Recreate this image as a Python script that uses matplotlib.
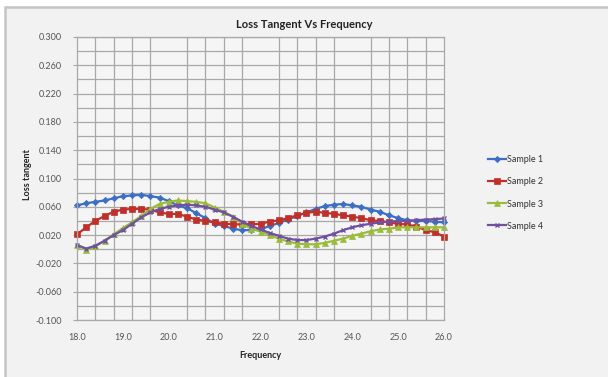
import numpy as np
import matplotlib
matplotlib.use("Agg")
import matplotlib.pyplot as plt
from matplotlib.patches import Rectangle

plt.rcParams['font.family'] = ['Lato', 'DejaVu Sans']

# frequency points, 18.0 to 26.0 in steps of 0.2
freq = [18.0, 18.2, 18.4, 18.6, 18.8, 19.0, 19.2, 19.4, 19.6, 19.8,
        20.0, 20.2, 20.4, 20.6, 20.8, 21.0, 21.2, 21.4, 21.6, 21.8,
        22.0, 22.2, 22.4, 22.6, 22.8, 23.0, 23.2, 23.4, 23.6, 23.8,
        24.0, 24.2, 24.4, 24.6, 24.8, 25.0, 25.2, 25.4, 25.6, 25.8, 26.0]

sample1 = [0.062, 0.065, 0.067, 0.069, 0.072, 0.075, 0.076, 0.077, 0.075, 0.073,
           0.068, 0.062, 0.058, 0.051, 0.044, 0.036, 0.033, 0.029, 0.027, 0.027,
           0.028, 0.033, 0.037, 0.042, 0.047, 0.052, 0.057, 0.061, 0.063, 0.064,
           0.062, 0.060, 0.056, 0.053, 0.048, 0.044, 0.041, 0.040, 0.040, 0.039, 0.038]

sample2 = [0.021, 0.031, 0.040, 0.047, 0.053, 0.056, 0.057, 0.057, 0.056, 0.052,
           0.050, 0.050, 0.046, 0.042, 0.040, 0.038, 0.036, 0.0355, 0.035, 0.035,
           0.036, 0.039, 0.041, 0.044, 0.048, 0.0515, 0.053, 0.0515, 0.050, 0.048,
           0.046, 0.044, 0.041, 0.040, 0.038, 0.036, 0.035, 0.032, 0.027, 0.024, 0.018]

sample3 = [0.006, -0.001, 0.004, 0.012, 0.021, 0.030, 0.038, 0.047, 0.057, 0.064,
           0.067, 0.069, 0.068, 0.067, 0.065, 0.059, 0.053, 0.046, 0.036, 0.029,
           0.025, 0.020, 0.015, 0.011, 0.008, 0.007, 0.007, 0.009, 0.012, 0.015,
           0.019, 0.022, 0.0255, 0.028, 0.029, 0.031, 0.031, 0.031, 0.031, 0.031, 0.031]

sample4 = [0.006, 0.001, 0.005, 0.012, 0.020, 0.027, 0.036, 0.045, 0.052, 0.057,
           0.060, 0.062, 0.063, 0.062, 0.060, 0.056, 0.052, 0.046, 0.039, 0.033,
           0.028, 0.023, 0.019, 0.015, 0.013, 0.013, 0.015, 0.018, 0.022, 0.027,
           0.031, 0.034, 0.036, 0.038, 0.039, 0.040, 0.040, 0.041, 0.042, 0.0425, 0.0435]

labels = ['Sample 1', 'Sample 2', 'Sample 3', 'Sample 4']
colors = ['#3A6FC4', '#C0302B', '#9BBB3A', '#7050A0']
markers = ['D', 's', '^', 'x']
sizes = [3.2, 4.2, 4.0, 3.5]

fig = plt.figure(figsize=(6.08, 3.77), dpi=100, facecolor='white')

# chart area frame (grey panel)
fig.patches.append(Rectangle((5 / 608, -0.05), 1.1, 1 - 7 / 377 + 0.05,
                             transform=fig.transFigure, facecolor='#f2f2f2',
                             edgecolor='#c4c4c4', linewidth=1.8, zorder=-10))

ax = fig.add_axes([77 / 608, 1 - 320 / 377, (444 - 77) / 608, (320 - 37) / 377])
ax.set_facecolor('#f5f5f5')

for y, lab, c, m, s in zip([sample1, sample2, sample3, sample4], labels, colors, markers, sizes):
    ax.plot(freq, y, color=c, marker=m, markersize=s, linewidth=1.6, label=lab,
            markeredgewidth=1.0 if m == 'x' else 0.5, clip_on=False)

ax.set_xlim(18, 26)
ax.set_ylim(-0.1, 0.3)
ax.set_xticks(np.arange(18, 26.01, 1.0))
ax.set_xticks(np.arange(18, 26.01, 0.4), minor=True)
ax.set_xticklabels(['%.1f' % v for v in np.arange(18, 26.01, 1.0)])
ax.set_yticks(np.arange(-0.1, 0.301, 0.04))
ax.set_yticks(np.arange(-0.1, 0.301, 0.02), minor=True)
ax.set_yticklabels(['%.3f' % v for v in np.arange(-0.1, 0.301, 0.04)])

ax.grid(which='minor', color='#a8a8a8', linewidth=0.9)
ax.grid(which='major', axis='y', color='#a8a8a8', linewidth=0.9)
ax.set_axisbelow(True)
for sp in ax.spines.values():
    sp.set_color('#a8a8a8')
    sp.set_linewidth(0.9)

ax.tick_params(axis='x', which='both', length=0, labelsize=6.5, colors='#555555', pad=9)
ax.tick_params(axis='y', which='major', length=3, labelsize=6.5, colors='#555555', pad=8)
ax.tick_params(axis='y', which='minor', length=0)
ax.tick_params(axis='y', which='major', color='#a8a8a8')

fig.text(0.5, 1 - 24 / 377, 'Loss Tangent Vs Frequency', ha='center', va='center',
         fontsize=8, fontweight='bold', color='#222222')
fig.text(260 / 608, 1 - 355 / 377, 'Frequency', ha='center', va='center',
         fontsize=6.5, fontweight='bold', color='#222222')
fig.text(28 / 608, 1 - 175 / 377, 'Loss tangent', ha='center', va='center',
         rotation=90, fontsize=6.5, fontweight='bold', color='#222222')

leg = ax.legend(loc='center left', bbox_to_anchor=(480 / 608, 1 - 193 / 377),
                bbox_transform=fig.transFigure, frameon=False, fontsize=6.5,
                handlelength=2.0, handletextpad=0.1, labelspacing=1.45)
for t in leg.get_texts():
    t.set_color('#333333')

fig.savefig('out.png', dpi=100, facecolor=fig.get_facecolor())
